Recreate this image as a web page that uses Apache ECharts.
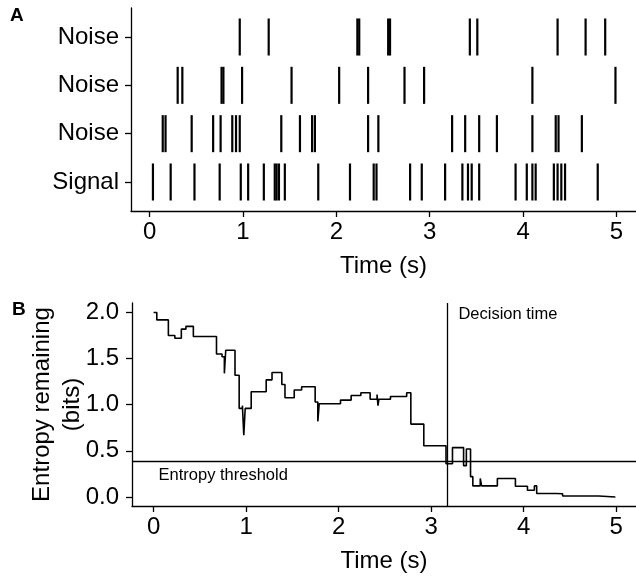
<!DOCTYPE html>
<html>
<head>
<meta charset="utf-8">
<style>html,body{margin:0;padding:0;background:#fff;}#chart{width:636px;height:579px;}</style>
<script src="https://cdn.jsdelivr.net/npm/echarts@6/dist/echarts.min.js"></script>
</head>
<body>
<div id="chart"></div>
<script>
// ---- Data ----
const rowLabels = ['Signal', 'Noise', 'Noise', 'Noise']; // bottom to top
const signalSpikes = [0.035, 0.225, 0.48, 0.75, 0.976, 1.055, 1.223, 1.34, 1.36, 1.385, 1.448, 1.806, 2.146, 2.40, 2.43, 2.79, 2.915, 3.165, 3.35, 3.41, 3.45, 3.53, 3.92, 4.04, 4.10, 4.135, 4.33, 4.37, 4.41, 4.45, 4.80];
const noiseASpikes = [0.14, 0.17, 0.45, 0.68, 0.76, 0.885, 0.925, 0.965, 1.41, 1.61, 1.74, 1.77, 2.34, 2.45, 3.24, 3.38, 3.53, 3.72, 4.10, 4.35, 4.38, 4.63];
const noiseBSpikes = [0.30, 0.35, 0.77, 0.79, 0.99, 1.52, 2.03, 2.34, 2.73, 2.94, 4.10, 4.99];
const noiseCSpikes = [0.965, 1.275, 2.225, 2.245, 2.555, 2.575, 3.43, 3.51, 4.37, 4.67, 4.88];

const entropyTimes = [0, 0.035, 0.16, 0.23, 0.30, 0.35, 0.43, 0.68, 0.74, 0.765, 0.78, 0.88, 0.925, 0.96, 0.975, 0.99, 1.055, 1.217, 1.28, 1.386, 1.42, 1.52, 1.60, 1.746, 1.775, 1.79, 2.02, 2.135, 2.24, 2.34, 2.415, 2.425, 2.435, 2.56, 2.735, 2.78, 2.92, 3.16, 3.23, 3.35, 3.38, 3.425, 3.45, 3.53, 3.545, 3.715, 3.91, 4.04, 4.115, 4.14, 4.35, 4.37, 4.42, 4.81, 4.99];
const entropyValues = [2.0, 1.92, 1.75, 1.72, 1.82, 1.85, 1.74, 1.55, 1.52, 1.34, 1.59, 1.32, 0.96, 0.99, 0.67, 0.96, 1.14, 1.27, 1.35, 1.22, 1.075, 1.16, 1.195, 1.03, 0.82, 1.01, 1.05, 1.10, 1.13, 1.06, 1.11, 0.99, 1.06, 1.09, 1.13, 0.79, 0.555, 0.36, 0.535, 0.34, 0.52, 0.22, 0.12, 0.2, 0.12, 0.20, 0.116, 0.073, 0.12, 0.037, 0.02, 0.035, 0.01, 0.0, 0.0];

const entropyThreshold = 0.39;
const decisionTime = 3.175;
const timeTicks = [0, 1, 2, 3, 4, 5];
const rowTicks = [1, 2, 3, 4];
const entropyTicks = [0, 0.5, 1.0, 1.5, 2.0];

// ---- Build ----
const FONT = '"Liberation Sans", Arial, Helvetica, sans-serif';
const spikeRows = [signalSpikes, noiseASpikes, noiseBSpikes, noiseCSpikes];
const spikeData = [];
spikeRows.forEach((arr, i) => arr.forEach(t => spikeData.push([t, i + 1])));
const entropyData = entropyTimes.map((t, i) => [t, entropyValues[i]]);
const SPIKE_HALF = 0.383;

const axisLineStyle = { show: true, onZero: false, lineStyle: { color: '#000', width: 1.3 } };
const tickStyle = { show: true, length: 6, lineStyle: { color: '#000', width: 1.3 } };
const labelBase = { color: '#000', fontSize: 24, fontFamily: FONT };

const chart = echarts.init(document.getElementById('chart'), null, { renderer: 'canvas' });
chart.setOption({
  animation: false,
  backgroundColor: '#fff',
  title: [
    { text: 'A', left: 10, top: 6, padding: 0, textStyle: { fontSize: 19, fontWeight: 'bold', color: '#000', fontFamily: FONT } },
    { text: 'B', left: 12, top: 300, padding: 0, textStyle: { fontSize: 19, fontWeight: 'bold', color: '#000', fontFamily: FONT } }
  ],
  grid: [
    { left: 131, top: 8, right: 0, height: 203 },
    { left: 132, top: 303, right: 0, height: 203 }
  ],
  xAxis: [
    {
      gridIndex: 0, type: 'value', min: -0.2, max: 5.21,
      axisLine: axisLineStyle,
      axisTick: Object.assign({ customValues: timeTicks }, tickStyle),
      axisLabel: Object.assign({ customValues: timeTicks, margin: 9 }, labelBase),
      splitLine: { show: false },
      name: 'Time (s)', nameLocation: 'middle', nameGap: 43, nameMoveOverlap: false,
      nameTextStyle: labelBase
    },
    {
      gridIndex: 1, type: 'value', min: -0.233, max: 5.213,
      axisLine: axisLineStyle,
      axisTick: Object.assign({ customValues: timeTicks }, tickStyle),
      axisLabel: Object.assign({ customValues: timeTicks, margin: 9 }, labelBase),
      splitLine: { show: false },
      name: 'Time (s)', nameLocation: 'middle', nameGap: 43, nameMoveOverlap: false,
      nameTextStyle: labelBase
    }
  ],
  yAxis: [
    {
      gridIndex: 0, type: 'value', min: 0.4, max: 4.6,
      axisLine: axisLineStyle,
      axisTick: Object.assign({ customValues: rowTicks }, tickStyle),
      axisLabel: Object.assign({ customValues: rowTicks, margin: 12, formatter: v => rowLabels[Math.round(v) - 1] }, labelBase),
      splitLine: { show: false }
    },
    {
      gridIndex: 1, type: 'value', min: -0.098, max: 2.103,
      axisLine: axisLineStyle,
      axisTick: Object.assign({ customValues: entropyTicks }, tickStyle),
      axisLabel: Object.assign({ customValues: entropyTicks, margin: 13, formatter: v => v.toFixed(1) }, labelBase),
      splitLine: { show: false },
      name: 'Entropy remaining\n(bits)', nameLocation: 'middle', nameGap: 45, nameMoveOverlap: false,
      nameTextStyle: Object.assign({ lineHeight: 30 }, labelBase)
    }
  ],
  series: [
    {
      type: 'custom', xAxisIndex: 0, yAxisIndex: 0, silent: true,
      data: spikeData,
      renderItem: (params, api) => {
        const t = api.value(0), r = api.value(1);
        const p1 = api.coord([t, r - SPIKE_HALF]);
        const p2 = api.coord([t, r + SPIKE_HALF]);
        return { type: 'line', shape: { x1: p1[0], y1: p1[1], x2: p2[0], y2: p2[1] }, style: { stroke: '#000', lineWidth: 2.2 } };
      }
    },
    {
      type: 'line', xAxisIndex: 1, yAxisIndex: 1, step: 'end', showSymbol: false, silent: true,
      data: entropyData,
      lineStyle: { color: '#000', width: 1.6 },
      markLine: {
        symbol: 'none', silent: true, animation: false,
        label: { show: false },
        lineStyle: { color: '#000', type: 'solid', width: 1.3 },
        data: [{ yAxis: entropyThreshold }, { xAxis: decisionTime }]
      }
    },
    {
      type: 'scatter', xAxisIndex: 1, yAxisIndex: 1, symbolSize: 0, silent: true,
      itemStyle: { opacity: 1, color: '#000' },
      data: [
        { value: [0.054, 0.235], label: { formatter: 'Entropy threshold', distance: 0 } },
        { value: [decisionTime, 1.98], label: { formatter: 'Decision time', distance: 11 } }
      ],
      label: { show: true, position: 'right', color: '#000', opacity: 1, fontSize: 16.5, fontFamily: FONT }
    }
  ]
});
</script>
</body>
</html>
